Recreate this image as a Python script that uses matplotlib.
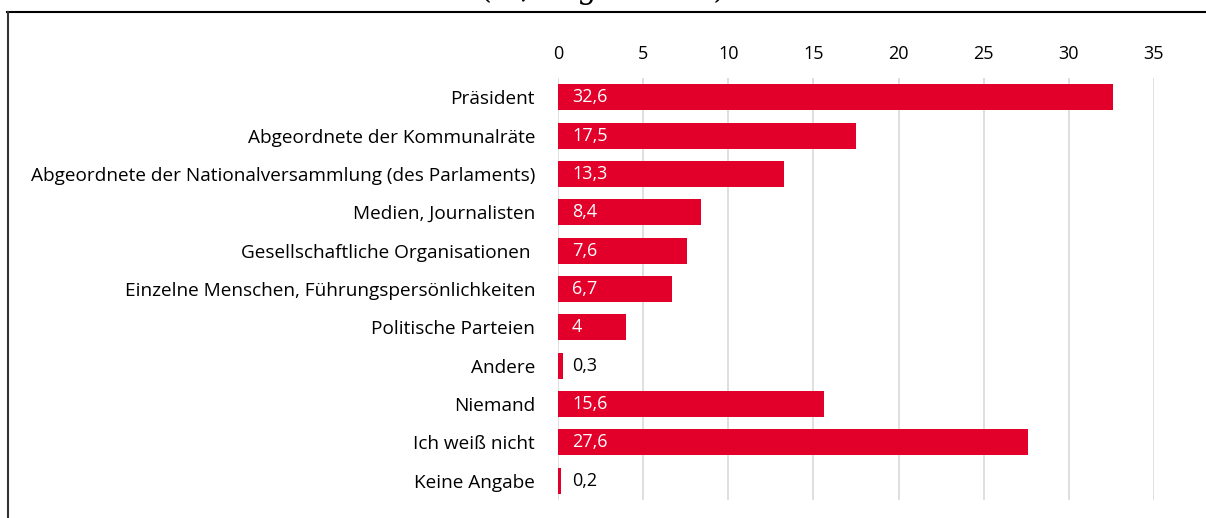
import matplotlib.pyplot as plt
from matplotlib.lines import Line2D

plt.rcParams['font.family'] = ['Open Sans', 'DejaVu Sans']

categories = [
    "Präsident",
    "Abgeordnete der Kommunalräte",
    "Abgeordnete der Nationalversammlung (des Parlaments)",
    "Medien, Journalisten",
    "Gesellschaftliche Organisationen ",
    "Einzelne Menschen, Führungspersönlichkeiten",
    "Politische Parteien",
    "Andere",
    "Niemand",
    "Ich weiß nicht",
    "Keine Angabe",
]
values = [32.6, 17.5, 13.3, 8.4, 7.6, 6.7, 4, 0.3, 15.6, 27.6, 0.2]
value_labels = ["32,6", "17,5", "13,3", "8,4", "7,6", "6,7", "4", "0,3", "15,6", "27,6", "0,2"]
xticks = [0, 5, 10, 15, 20, 25, 30, 35]

red = "#E2002A"

fig = plt.figure(figsize=(12.06, 5.18), dpi=100)
ax = fig.add_axes([558 / 1206, 1 - 500 / 518, (1154 - 558) / 1206, 422 / 518])

y = list(range(len(categories)))
ax.barh(y, values, height=0.68, color=red, zorder=2)

for i, (v, lab) in enumerate(zip(values, value_labels)):
    col = "white" if v > 2 else "black"
    ax.annotate(lab, (0, i), xytext=(14, 0), textcoords="offset pixels",
                va="center", ha="left", color=col, fontsize=13, zorder=3)

ax.set_xlim(0, 35)
ax.set_ylim(len(categories) - 0.5, -0.5)
ax.set_xticks(xticks)
ax.xaxis.tick_top()
ax.tick_params(axis="x", length=0, pad=11, labelsize=13, colors="black")
ax.tick_params(axis="y", length=0, pad=16.5, labelsize=13.7)
ax.set_yticks(y, categories)
ax.grid(axis="x", color="#D9D9D9", linewidth=1.2, zorder=0)
for s in ax.spines.values():
    s.set_visible(False)

# frame around the chart, clipped by the crop
fig.add_artist(Line2D([7 / 1206, 1], [1 - 12 / 518, 1 - 12 / 518], color="black", lw=1.5,
                      transform=fig.transFigure))
fig.add_artist(Line2D([8 / 1206, 8 / 1206], [0, 1 - 12 / 518], color="#333333", lw=1.5,
                      transform=fig.transFigure))

# title above the frame, almost entirely cut off by the crop
fig.text(0.50, 1 + 2 / 518, "(%, Ergebnisse)", family="DejaVu Serif", fontsize=22,
         ha="center", va="baseline")

fig.savefig("out.png", dpi=100)
